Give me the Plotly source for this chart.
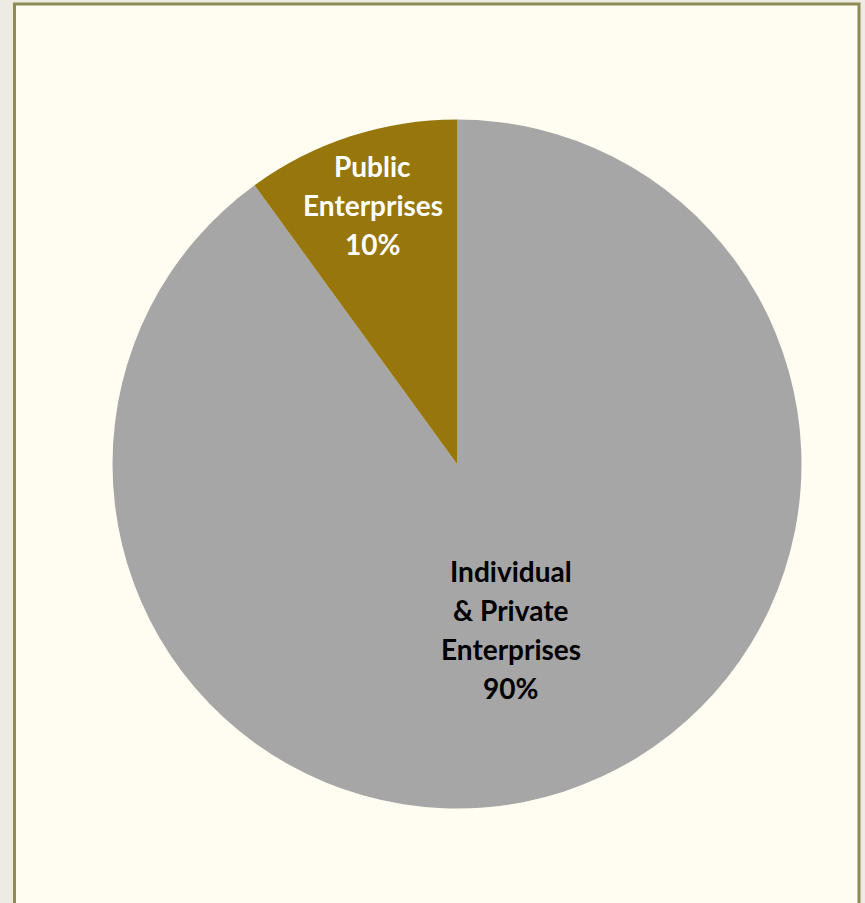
import math
import plotly.graph_objects as go

# Share of enterprises by ownership type
labels = ["Individual & Private Enterprises", "Public Enterprises"]
label_lines = [["Individual", "& Private", "Enterprises"], ["Public", "Enterprises"]]
values = [90, 10]
colors = ["#A6A6A6", "#97760C"]
text_colors = ["#000000", "#FFFFFF"]
label_radius = [0.505, 0.79]

W, H = 865, 903
cx, cy, r = 457, 464, 344.5

fig = go.Figure(go.Pie(
    labels=labels,
    values=values,
    sort=False,
    direction="clockwise",
    rotation=0,
    marker=dict(colors=colors, line=dict(width=0)),
    textinfo="none",
    hoverinfo="label+percent",
    showlegend=False,
    domain=dict(x=[(cx - r) / W, (cx + r) / W], y=[1 - (cy + r) / H, 1 - (cy - r) / H]),
))

# Slice labels placed along each slice's mid-angle
total = sum(values)
start = 0.0
annotations = []
line_gap = 39
for lines, v, tc, f in zip(label_lines, values, text_colors, label_radius):
    mid = (start + v / 2) / total * 2 * math.pi
    start += v
    px = cx + f * r * math.sin(mid)
    py = cy - f * r * math.cos(mid)
    pct = f"{round(v / total * 100)}%"
    all_lines = lines + [pct]
    n = len(all_lines)
    for i, t in enumerate(all_lines):
        off = (i - (n - 1) / 2) * line_gap
        annotations.append(dict(
            x=px / W, y=1 - (py + off) / H, xref="paper", yref="paper",
            text=f"<b>{t}</b>", showarrow=False,
            font=dict(family="Lato", size=28, color=tc),
            xanchor="center", yanchor="middle",
        ))

fig.update_layout(
    width=W, height=H,
    margin=dict(l=0, r=0, t=0, b=0),
    paper_bgcolor="#EEEBE2",
    plot_bgcolor="#EEEBE2",
    shapes=[dict(
        type="rect", xref="paper", yref="paper",
        x0=14.5 / W, x1=859 / W, y0=-0.02, y1=1 - 4 / H,
        fillcolor="#FFFDF2", line=dict(color="#8E8B55", width=3),
        layer="below",
    )],
    annotations=annotations,
)

fig.write_html("out.html")
